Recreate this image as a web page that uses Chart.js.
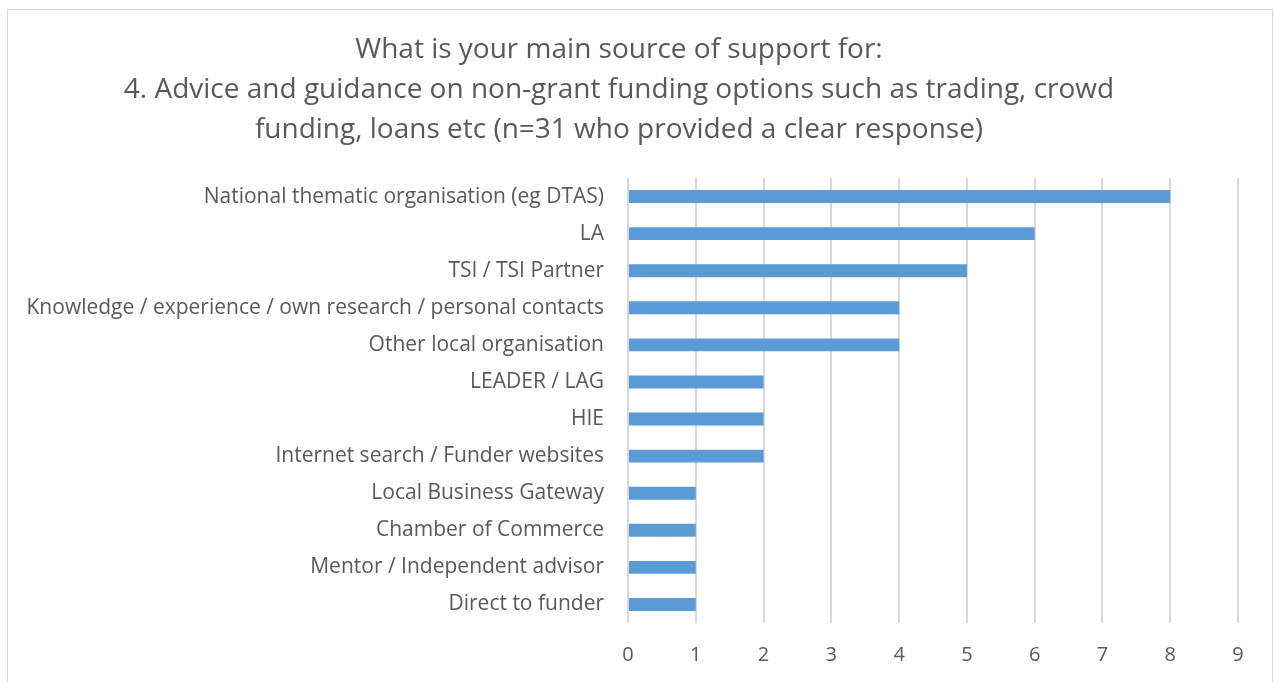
<!DOCTYPE html>
<html>
<head>
<meta charset="utf-8">
<script src="https://cdn.jsdelivr.net/npm/chart.js@4"></script>
<style>
  html, body { margin: 0; padding: 0; background: #fff; overflow: hidden; }
  #frame { position: absolute; left: 7px; top: 9px; width: 1264px; height: 700px; border: 1px solid #d9d9d9; }
  #wrap { position: absolute; left: 0; top: 0; width: 1274px; height: 682px; }
</style>
</head>
<body>
<div id="frame"></div>
<div id="wrap"><canvas id="myChart" width="1274" height="682"></canvas></div>
<script>
var sources = [
  "National thematic organisation (eg DTAS)",
  "LA",
  "TSI / TSI Partner",
  "Knowledge / experience / own research / personal contacts",
  "Other local organisation",
  "LEADER / LAG",
  "HIE",
  "Internet search / Funder websites",
  "Local Business Gateway",
  "Chamber of Commerce",
  "Mentor / Independent advisor",
  "Direct to funder"
];
var counts = [8, 6, 5, 4, 4, 2, 2, 2, 1, 1, 1, 1];
var titleLines = [
  "What is your main source of support for:",
  "4. Advice and guidance on non-grant funding options such as trading, crowd",
  "funding, loans etc (n=31 who provided a clear response)"
];

var textGrey = "#595959";
var fontName = "'Open Sans', sans-serif";

var ctx = document.getElementById('myChart').getContext('2d');
var chart = new Chart(ctx, {
  type: "bar",
  data: {
    labels: sources,
    datasets: [{
      data: counts,
      backgroundColor: "#5b9bd5",
      borderWidth: 0,
      barPercentage: 0.35,
      categoryPercentage: 1
    }]
  },
  options: {
    indexAxis: "y",
    responsive: false,
    animation: false,
    layout: { padding: { left: 0, right: 36, top: 0, bottom: 0 } },
    plugins: {
      legend: { display: false },
      tooltip: { enabled: false },
      title: {
        display: true,
        text: titleLines,
        color: textGrey,
        font: { family: fontName, size: 28, weight: "normal", lineHeight: 40 / 28 },
        padding: { top: 30, bottom: 28 }
      }
    },
    scales: {
      x: {
        min: 0,
        max: 9,
        ticks: { stepSize: 1, color: textGrey, padding: 20, font: { family: fontName, size: 20 } },
        grid: { color: "#d9d9d9", lineWidth: 2, drawTicks: false },
        border: { display: false },
        afterFit: function (scale) { scale.height = 59; }
      },
      y: {
        ticks: { color: textGrey, padding: 24, font: { family: fontName, size: 21 } },
        grid: { display: false, drawTicks: false },
        border: { display: false },
        afterFit: function (scale) { scale.width = 628; }
      }
    }
  }
});
</script>
</body>
</html>
